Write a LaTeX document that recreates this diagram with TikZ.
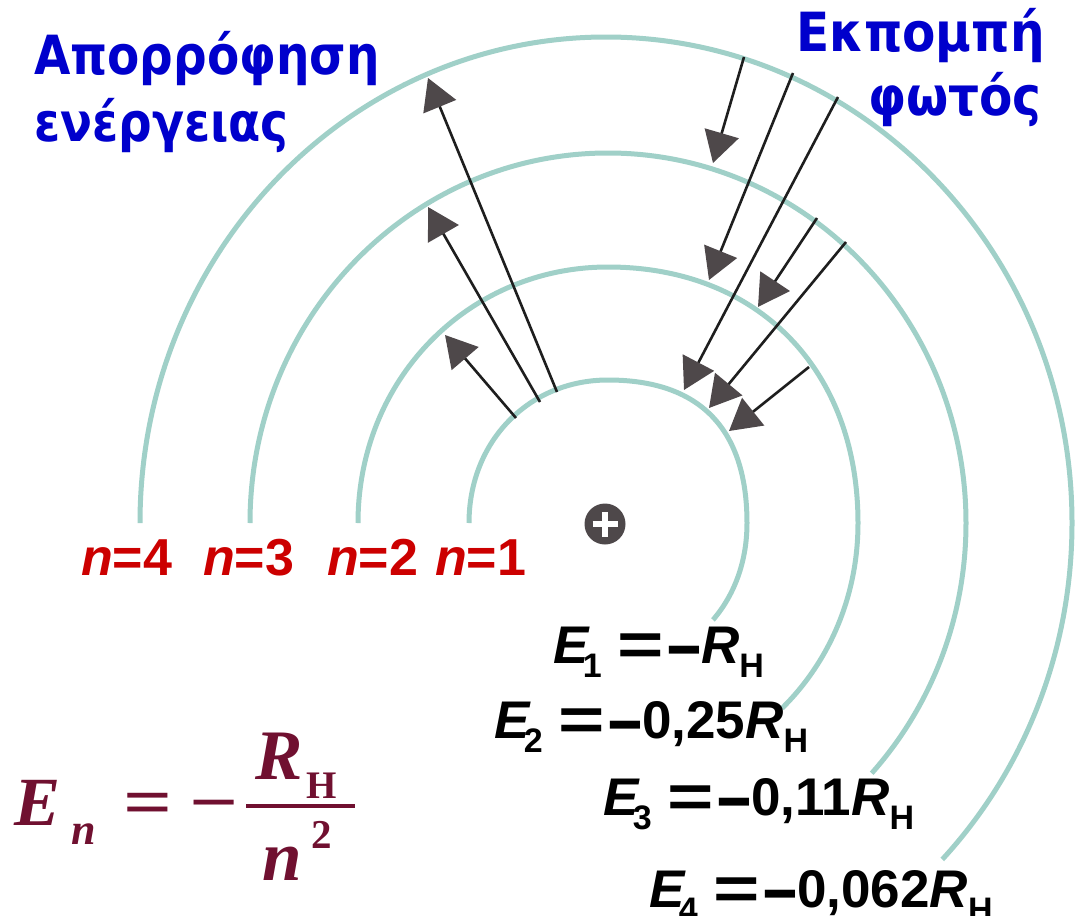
\documentclass[tikz,border=0pt]{standalone}
\usepackage{graphicx}
\usepackage{fontspec}
\setmainfont{Liberation Sans}
\newfontfamily\grkfont{DejaVu Sans}
\newfontfamily\tmsfont{Liberation Serif}
\usetikzlibrary{arrows.meta}
\definecolor{orbitc}{RGB}{160,208,200}
\definecolor{tipgray}{RGB}{78,72,74}
\definecolor{shaftc}{RGB}{30,30,30}
\definecolor{ttlblue}{RGB}{0,0,204}
\definecolor{nred}{RGB}{204,0,0}
\definecolor{fmaroon}{RGB}{112,16,48}
\newcommand\eqsgn{\raisebox{-2.6pt}{\scalebox{1.5}[1.15]{=}}}
\newcommand\sbx[1]{\raisebox{-14pt}{\fontsize{34}{34}\selectfont #1}}
\newcommand\Elbl[2]{\textit{E}\kern-7pt\sbx{#1}\kern16pt\eqsgn\kern3pt\raisebox{-8pt}{\scalebox{1.15}[1.5]{–}}\kern0pt #2\textit{R}\sbx{H}}
% cx cy rx ry kUL kUR kLR endangle
\newcommand\orbit[8]{%
  \begin{scope}
    \clip (#1,#2) -- +(#8:900) -- +(900,0) -- +(900,-900) -- +(-900,-900) -- +(-900,0) -- cycle;
    \draw[orb] (#1-#3,#2) .. controls (#1-#3,#2-#5*#4) and (#1-#5*#3,#2-#4) .. (#1,#2-#4)
      .. controls (#1+#6*#3,#2-#4) and (#1+#3,#2-#6*#4) .. (#1+#3,#2)
      .. controls (#1+#3,#2+#7*#4) and (#1+#7*#3,#2+#4) .. (#1,#2+#4);
  \end{scope}}
\begin{document}
\begin{tikzpicture}[x=1pt,y=-1pt,
  orb/.style={draw=orbitc, line width=5pt},
  jump/.style={draw=shaftc, line width=2.6pt, -{Triangle[length=31pt,width=35pt,color=tipgray]}},
  ttl/.style={inner sep=0pt, text=ttlblue, font=\fontsize{54}{54}\selectfont\grkfont\bfseries},
  nlab/.style={inner sep=0pt, anchor=base west, text=nred, font=\fontsize{52}{52}\selectfont\bfseries},
  elab/.style={inner sep=0pt, anchor=base west, text=black, font=\fontsize{53}{53}\selectfont\bfseries},
  fml/.style={inner sep=0pt, anchor=base west, text=fmaroon},
]
\useasboundingbox[fill=white] (0,0) rectangle (1077,916);

% orbits
\orbit{608}{523}{139}{143}{0.57}{0.66}{0.58}{42.7}
\orbit{608}{523}{250}{256}{0.56}{0.60}{0.56}{46.8}
\orbit{608}{523}{358}{370}{0.5523}{0.5523}{0.5523}{43.5}
\orbit{606}{523}{466}{486}{0.5523}{0.5523}{0.5523}{45}

% nucleus
\node[circle, fill=tipgray, minimum size=41pt, inner sep=0pt] (nuc) at (605,524) {};
\draw[white, line width=6.5pt] ([xshift=-12.5pt]nuc.center) -- ([xshift=12.5pt]nuc.center);
\draw[white, line width=6.5pt] ([yshift=-12.5pt]nuc.center) -- ([yshift=12.5pt]nuc.center);

% absorption arrows
\coordinate (a1s) at (557,392); \coordinate (a1e) at (428,78);
\coordinate (a2s) at (540,402); \coordinate (a2e) at (428,207);
\coordinate (a3s) at (516,418); \coordinate (a3e) at (445,335);
\draw[jump] (a1s) -- (a1e);
\draw[jump] (a2s) -- (a2e);
\draw[jump] (a3s) -- (a3e);

% emission arrows
\coordinate (e1s) at (744,57);  \coordinate (e1e) at (713,163);
\coordinate (e2s) at (793,73);  \coordinate (e2e) at (709,280);
\coordinate (e3s) at (838,97);  \coordinate (e3e) at (684,390);
\coordinate (e4s) at (817,218); \coordinate (e4e) at (758,307);
\coordinate (e5s) at (846,242); \coordinate (e5e) at (709,408);
\coordinate (e6s) at (809,367); \coordinate (e6e) at (729,431);
\draw[jump] (e1s) -- (e1e);
\draw[jump] (e2s) -- (e2e);
\draw[jump] (e3s) -- (e3e);
\draw[jump] (e4s) -- (e4e);
\draw[jump] (e5s) -- (e5e);
\draw[jump] (e6s) -- (e6e);

% titles
\node[ttl, anchor=base west] (abs1) at (34,74) {\scalebox{0.87}[1]{Απορρόφηση}};
\node[ttl, anchor=base west] (abs2) at (34,141) {\scalebox{0.87}[1]{ενέργειας}};
\node[ttl, anchor=base east] (em1) at (1045,51) {\scalebox{0.9}[1]{Εκπομπή}};
\node[ttl, anchor=base east] (em2) at (1042,115) {\scalebox{0.9}[1]{φωτός}};

% level labels
\node[nlab] (n4) at (81,575) {\textit{n}=4};
\node[nlab] (n3) at (203,575) {\textit{n}=3};
\node[nlab] (n2) at (327,575) {\textit{n}=2};
\node[nlab] (n1) at (435,575) {\textit{n}=1};

% energies
\node[elab] (E1) at (553,663) {\Elbl{1}{}};
\node[elab] (E2) at (494,738) {\Elbl{2}{0,25}};
\node[elab] (E3) at (603,815) {\Elbl{3}{0,11}};
\node[elab] (E4) at (649,907) {\Elbl{4}{0,062}};

% formula
\node[fml] (flhs) at (14,825) {\fontsize{69}{69}\selectfont\tmsfont\bfseries\itshape E\kern11pt\raisebox{-19pt}{\fontsize{44}{44}\selectfont n}\kern28pt\scalebox{1.25}[1]{\upshape =}\kern17pt\scalebox{1.25}[1]{\upshape −}};
\node[fml] (fR) at (255,779) {\fontsize{71}{71}\selectfont\tmsfont\bfseries\itshape R};
\node[fml] (fH) at (306,798) {\fontsize{39}{39}\selectfont\tmsfont\bfseries H};
\node[fml] (fn) at (262,880) {\fontsize{71}{71}\selectfont\tmsfont\bfseries\itshape n};
\node[fml] (f2) at (311,848) {\fontsize{41}{41}\selectfont\tmsfont\bfseries 2};
\coordinate (barL) at (246,806); \coordinate (barR) at (355,806);
\draw[fmaroon, line width=3.5pt] (barL) -- (barR);
\end{tikzpicture}
\end{document}
